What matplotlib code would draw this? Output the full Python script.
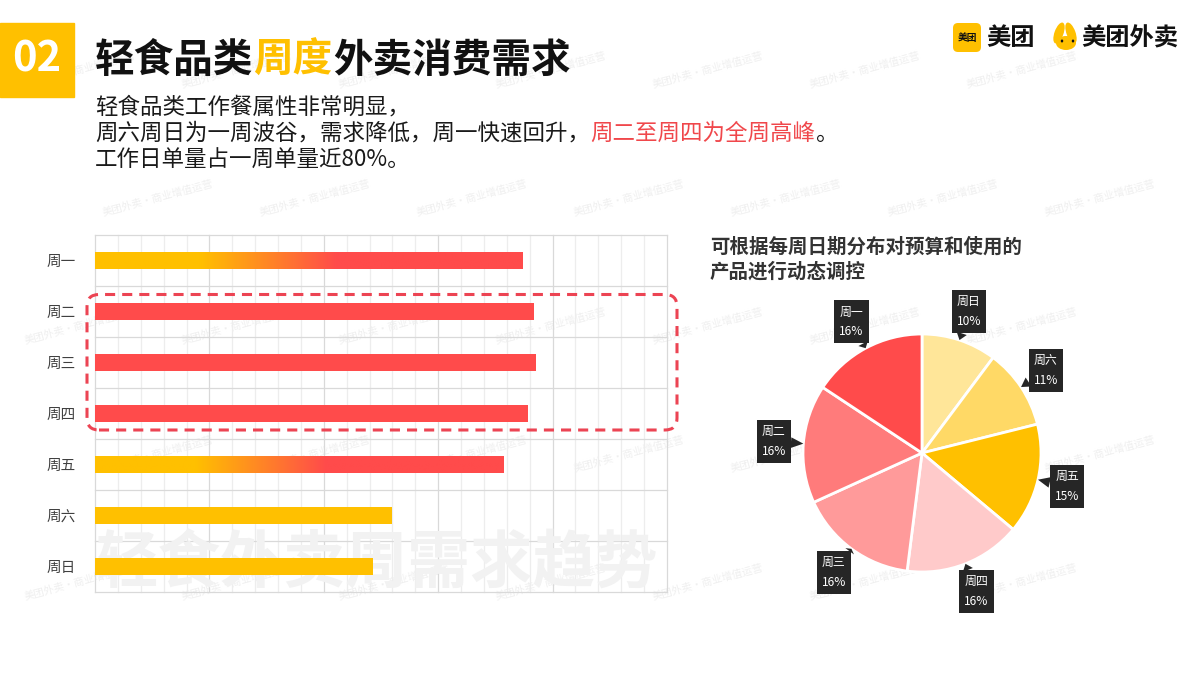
import matplotlib
matplotlib.use('Agg')
import matplotlib.pyplot as plt
import numpy as np
from matplotlib.patches import FancyBboxPatch, Rectangle, Ellipse
from matplotlib.colors import LinearSegmentedColormap
from matplotlib.transforms import IdentityTransform

plt.rcParams['font.family'] = ['Noto Sans CJK SC', 'DejaVu Sans']

# ---------------- data ----------------
days = ['周一', '周二', '周三', '周四', '周五', '周六', '周日']
share = [15.7, 16.1, 16.2, 15.9, 15.0, 10.9, 10.2]          # % of weekly orders
bar_style = ['gradient', 'red', 'red', 'red', 'gradient', 'yellow', 'yellow']
pie_order = ['周日', '周六', '周五', '周四', '周三', '周二', '周一']
pie_colors = {'周一': '#FF4B4B', '周二': '#FF7B7B', '周三': '#FF9A9A', '周四': '#FFCACA',
              '周五': '#FFC000', '周六': '#FFD966', '周日': '#FFE699'}

title_parts = [('轻食品类', '#111111'), ('周度', '#FFC000'), ('外卖消费需求', '#111111')]
sub_lines = [
    [('轻食品类工作餐属性非常明显，', '#1a1a1a')],
    [('周六周日为一周波谷，需求降低，周一快速回升，', '#1a1a1a'), ('周二至周四为全周高峰', '#F0474B'), ('。', '#1a1a1a')],
    [('工作日单量占一周单量近80%。', '#1a1a1a')],
]
pie_title = ['可根据每周日期分布对预算和使用的', '产品进行动态调控']
watermark_big = '轻食外卖周需求趋势'
watermark_small = '美团外卖·商业增值运营'

RED, YEL = '#FF4B4B', '#FFC000'

W, H = 1200, 675
fig = plt.figure(figsize=(12, 6.75), dpi=100)
fig.patch.set_facecolor('white')

bg = fig.add_axes([0, 0, 1, 1], zorder=0)
bg.set_xlim(0, W); bg.set_ylim(H, 0); bg.axis('off')
renderer = fig.canvas.get_renderer()

# faint background watermarks (kept inside the canvas)
for j, yy in enumerate(range(70, 640, 128)):
    off = 0 if j % 2 == 0 else 78
    for xx in range(80 + off, 1140, 157):
        bg.text(xx, yy, watermark_small, fontsize=7.5, color='#EFEFEF', rotation=15,
                ha='center', va='center', zorder=0)

def rich(x, y, parts, **kw):
    for s, c in parts:
        t = bg.text(x, y, s, color=c, **kw)
        x += t.get_window_extent(renderer).width

# header
bg.add_patch(Rectangle((0, 23), 74, 74, color=YEL, zorder=2))
bg.text(37, 60, '02', color='white', fontsize=30, fontweight='bold', ha='center', va='center', zorder=3)
rich(95, 60, title_parts, fontsize=28.5, fontweight='bold', ha='left', va='center', zorder=3)
for yy, parts in zip([107, 133, 160], sub_lines):
    rich(95, yy, parts, fontsize=16.2, ha='left', va='center', zorder=3)

# logos
bg.add_patch(FancyBboxPatch((953, 23), 28, 29, boxstyle='round,pad=0,rounding_size=5',
                            fc=YEL, ec='none', zorder=2))
bg.text(967, 38, '美团', fontsize=7, fontweight='bold', color='#111111', ha='center', va='center', zorder=3)
bg.text(986, 38, '美团', fontsize=17.5, fontweight='bold', color='#111111', ha='left', va='center', zorder=3)
bg.add_patch(Ellipse((1059, 33), 9, 22, angle=20, fc=YEL, ec='none', zorder=2))
bg.add_patch(Ellipse((1071, 33), 9, 22, angle=-20, fc=YEL, ec='none', zorder=2))
bg.add_patch(Ellipse((1066, 43), 20, 14, fc=YEL, ec='none', zorder=2))
bg.add_patch(Ellipse((1062, 41), 2.5, 3, fc='#111111', ec='none', zorder=3))
bg.add_patch(Ellipse((1073, 41), 2.5, 3, fc='#111111', ec='none', zorder=3))
bg.text(1081, 38, '美团外卖', fontsize=17.5, fontweight='bold', color='#111111', ha='left', va='center', zorder=3)

# pie title
for yy, s in zip([247, 272], pie_title):
    bg.text(710, yy, s, fontsize=14, fontweight='bold', color='#333333', ha='left', va='center', zorder=3)

# ---------------- bar chart ----------------
axb = fig.add_axes([95 / W, 1 - 592 / H, 572 / W, 357 / H], zorder=1)
axb.set_facecolor('none')
n = len(days)
y = np.arange(n)
xmax = 21.0
for i, xv in enumerate(np.linspace(0, xmax, 26)):
    axb.axvline(xv, color='#D9D9D9' if i % 5 == 0 else '#EDEDED', lw=0.9, zorder=0.5, clip_on=False)
for yv in np.arange(-0.5, n, 1.0):
    axb.axhline(yv, color='#D9D9D9', lw=0.9, zorder=0.5, clip_on=False)
for s in axb.spines.values():
    s.set_visible(False)
axb.set_xticks([])
axb.set_yticks(y)
axb.set_yticklabels(days, fontsize=10.5, color='#404040')
axb.tick_params(axis='y', length=0, pad=14)

axb.text(0.0, 5.95, watermark_big, fontsize=45, fontweight='bold', color='#F2F2F2',
         ha='left', va='center', zorder=0.8, clip_on=True)

bh = 0.345
cmap = LinearSegmentedColormap.from_list('yr', [(0, YEL), (0.245, YEL), (0.565, RED), (1, RED)])
grad = np.linspace(0, 1, 256).reshape(1, -1)
for yi, v, st in zip(y, share, bar_style):
    if st == 'gradient':
        b = axb.barh(yi, v, height=bh, color='none', zorder=2)[0]
        im = axb.imshow(grad, cmap=cmap, extent=[0, v, yi + bh / 2, yi - bh / 2],
                        aspect='auto', zorder=2, interpolation='bilinear')
        im.set_clip_path(b)
    else:
        axb.barh(yi, v, height=bh, color=RED if st == 'red' else YEL, zorder=2)
axb.set_xlim(0, xmax)
axb.set_ylim(n - 0.5, -0.5)

# dashed highlight box around 周二–周四
x0d, _ = axb.transData.transform((0, 0))
x1d, _ = axb.transData.transform((xmax, 0))
_, ytop = axb.transData.transform((0, 0.5))
_, ybot = axb.transData.transform((0, 3.5))
bx0, bx1 = x0d - 8, x1d + 10
by0, by1 = ybot + 9, ytop - 8.5
hl = FancyBboxPatch((bx0, by0), bx1 - bx0, by1 - by0, boxstyle='round,pad=0,rounding_size=12',
                    transform=IdentityTransform(), fill=False, ec='#EC4453', lw=2.2,
                    ls=(0, (3.3, 2.3)), zorder=5)
fig.add_artist(hl)

# ---------------- pie chart ----------------
cx, cy, R, half = 922, 453, 119, 160
axp = fig.add_axes([(cx - half) / W, 1 - (cy + half) / H, 2 * half / W, 2 * half / H], zorder=2)
pv = [share[days.index(d)] for d in pie_order]
wedges, _ = axp.pie(pv, colors=[pie_colors[d] for d in pie_order], startangle=90,
                    counterclock=False, radius=1,
                    wedgeprops=dict(edgecolor='white', linewidth=2))
lim = half / R
axp.set_xlim(-lim, lim); axp.set_ylim(-lim, lim); axp.set_aspect('equal')
axp.axis('off')
for w, d, v in zip(wedges, pie_order, pv):
    ang = np.deg2rad((w.theta1 + w.theta2) / 2)
    ex, ey = np.cos(ang), np.sin(ang)
    axp.annotate(f'{d}\n{v:.0f}%', xy=(ex * 1.0, ey * 1.0), xytext=(ex * 1.25, ey * 1.25),
                 ha='center', va='center', fontsize=8.6, color='white', linespacing=1.7,
                 bbox=dict(boxstyle='square,pad=0.42', fc='#262626', ec='none'),
                 arrowprops=dict(arrowstyle='wedge,tail_width=0.9,shrink_factor=0.5',
                                 fc='#262626', ec='none', shrinkA=0, shrinkB=0),
                 zorder=4)

fig.savefig('out.png', dpi=100, facecolor='white')
